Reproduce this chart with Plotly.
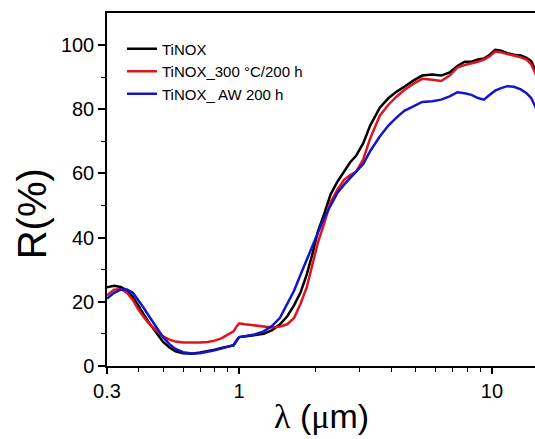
import math
import plotly.graph_objects as go

# Wavelength grid (µm)
wavelength = [0.30, 0.32, 0.34, 0.36, 0.38, 0.40, 0.42, 0.44, 0.47, 0.50,
              0.53, 0.56, 0.60, 0.65, 0.70, 0.75, 0.80, 0.85, 0.90, 0.95,
              0.98, 1.00, 1.05, 1.15, 1.25, 1.35, 1.45, 1.55, 1.65, 1.75,
              1.85, 1.95, 2.05, 2.15, 2.3, 2.45, 2.6, 2.75, 2.9, 3.1,
              3.3, 3.6, 3.9, 4.2, 4.5, 4.9, 5.3, 5.8, 6.3, 6.8,
              7.3, 7.8, 8.3, 8.8, 9.3, 9.8, 10.3, 10.8, 11.5, 12.2,
              13.0, 13.7, 14.3, 15.0]

tinox = [24.5, 25.0, 24.6, 23.5, 21.5, 18.5, 16.0, 13.5, 10.5, 7.5,
         5.8, 4.6, 4.0, 3.8, 4.2, 4.6, 5.1, 5.6, 6.0, 6.4,
         8.0, 9.0, 9.2, 9.5, 10.0, 11.2, 13.0, 15.5, 19.0, 23.0,
         28.5, 35.0, 42.0, 46.5, 53.5, 57.5, 60.5, 63.5, 65.5, 69.5,
         75.0, 80.5, 83.5, 85.5, 87.0, 89.0, 90.5, 90.8, 90.5, 91.5,
         93.5, 94.8, 94.8, 95.5, 95.8, 97.0, 98.5, 98.3, 97.5, 97.0,
         96.8, 96.0, 95.0, 91.5]

tinox_300 = [22.0, 23.8, 24.0, 22.8, 20.5, 17.5, 15.2, 13.2, 11.0, 9.2,
             8.2, 7.6, 7.3, 7.2, 7.3, 7.5, 7.9, 8.6, 9.6, 10.8,
             12.5, 13.3, 13.0, 12.6, 12.3, 12.0, 12.3, 13.0, 15.0, 19.5,
             24.5, 31.5, 38.5, 43.5, 51.0, 55.0, 58.0, 59.5, 60.5, 64.5,
             71.0, 78.0, 81.5, 84.0, 86.0, 88.0, 89.5, 89.2, 88.8, 90.5,
             93.0, 93.8, 94.2, 94.8, 95.5, 96.5, 98.0, 97.8, 97.2, 96.8,
             96.2, 95.5, 94.0, 90.5]

tinox_aw = [21.0, 22.8, 23.8, 23.8, 22.8, 20.5, 18.0, 15.5, 12.2, 9.0,
            6.8, 5.3, 4.3, 3.9, 4.0, 4.4, 4.9, 5.4, 5.9, 6.6,
            8.2, 9.0, 9.3, 9.8, 10.8, 12.5, 15.0, 19.5, 23.5, 28.5,
            33.0, 37.0, 41.5, 45.5, 50.0, 54.0, 56.5, 58.5, 60.5, 63.0,
            67.0, 71.5, 75.0, 77.5, 79.5, 81.0, 82.3, 82.5, 83.0, 84.0,
            85.3, 85.0, 84.5, 83.5, 83.0, 84.5, 85.8, 86.5, 87.2, 87.0,
            86.2, 85.0, 83.5, 80.0]

series_names = ["TiNOX", "TiNOX_300 \u00b0C/200 h", "TiNOX_ AW 200 h"]
series_values = [tinox, tinox_300, tinox_aw]
series_colors = ["#000000", "#e0141e", "#1414c8"]

x_tick_vals = [0.3, 1, 10]
x_tick_text = ["0.3", "1", "10"]
x_minor_vals = [0.4, 0.5, 0.6, 0.7, 0.8, 0.9, 2, 3, 4, 5, 6, 7, 8, 9]
y_tick_vals = [0, 20, 40, 60, 80, 100]
y_minor_vals = [10, 30, 50, 70, 90]

fig = go.Figure()
for name, vals, col in zip(series_names, series_values, series_colors):
    fig.add_trace(go.Scatter(x=wavelength, y=vals, mode="lines", name=name,
                             line=dict(color=col, width=2.5)))

font_main = "Liberation Sans, Arial, sans-serif"

fig.update_layout(
    width=535, height=439,
    margin=dict(l=107, r=0, t=13, b=73),
    paper_bgcolor="white", plot_bgcolor="white",
    font=dict(family=font_main, color="black", size=20),
    showlegend=True,
    legend=dict(x=0.005, y=0.945, xanchor="left", yanchor="top",
                bgcolor="rgba(0,0,0,0)", borderwidth=0,
                font=dict(size=15, family=font_main, color="black"),
                tracegroupgap=0),
    xaxis=dict(type="log", range=[math.log10(0.3), math.log10(14.8)],
               showline=True, linecolor="black", linewidth=1.5, mirror=True,
               showgrid=False, zeroline=False,
               ticks="outside", ticklen=6, tickwidth=1.5, tickcolor="black",
               tickmode="array", tickvals=x_tick_vals, ticktext=x_tick_text,
               tickfont=dict(size=20),
               minor=dict(tickmode="array", tickvals=x_minor_vals,
                          ticks="outside", ticklen=4, tickwidth=1.2,
                          tickcolor="black", showgrid=False)),
    yaxis=dict(range=[0, 110],
               showline=True, linecolor="black", linewidth=1.5, mirror=False,
               showgrid=False, zeroline=False,
               ticks="outside", ticklen=7, tickwidth=1.5, tickcolor="black",
               tickmode="array", tickvals=y_tick_vals,
               tickfont=dict(size=20),
               minor=dict(tickmode="array", tickvals=y_minor_vals,
                          ticks="outside", ticklen=4, tickwidth=1.2,
                          tickcolor="black", showgrid=False)),
)

fig.update_layout(legend_x=0.035)

fig.add_annotation(text="R(%)", textangle=-90, xref="paper", yref="paper",
                   x=-0.175, y=0.43, xanchor="center", yanchor="middle",
                   showarrow=False, font=dict(size=40, family=font_main))
fig.add_annotation(
    text='<span style="font-family:\'Liberation Serif\', serif">\u03bb</span> (<span style="font-family:\'Liberation Serif\', serif">\u03bc</span>m)',
    xref="paper", yref="paper", x=0.5, y=-0.143, xanchor="center", yanchor="middle",
    showarrow=False, font=dict(size=34, family=font_main))

fig.write_html("out.html")
